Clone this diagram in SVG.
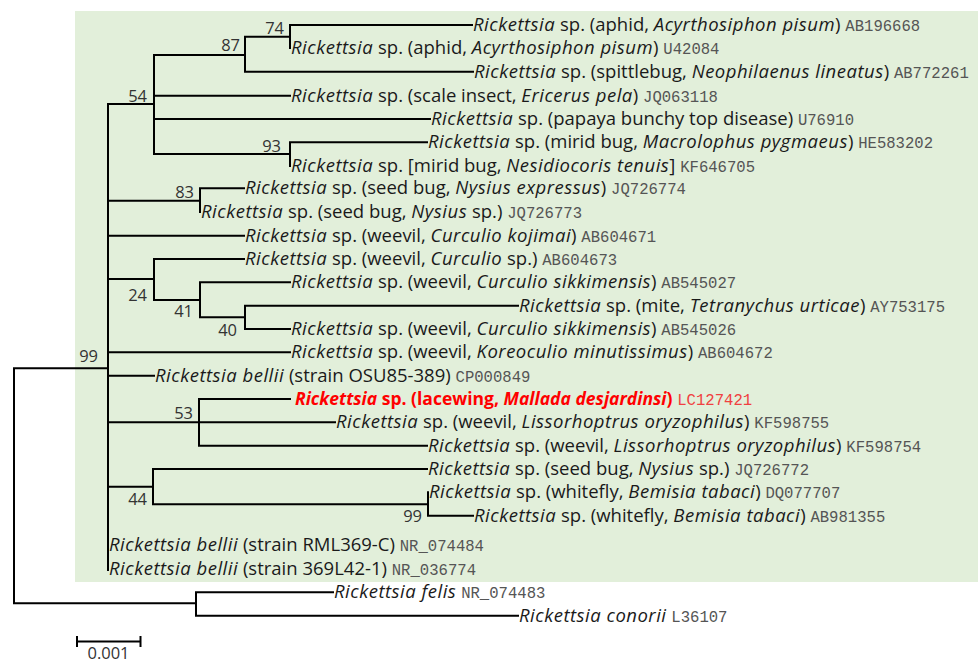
<svg xmlns="http://www.w3.org/2000/svg" width="979" height="663" viewBox="0 0 979 663">
<defs>
<style>
.bg{fill:#E2EFDA}
.br{stroke:#000;stroke-width:2;fill:none;stroke-linecap:square}
.t{font-family:"Open Sans","Noto Sans","Liberation Sans",sans-serif;font-size:18.5px;fill:#1a1a1a}
.i{font-style:italic;letter-spacing:0.5px}
.acc{font-family:"Liberation Mono","DejaVu Sans Mono",monospace;font-size:15.6px;fill:#555;letter-spacing:0}
.bs{font-family:"Open Sans","Noto Sans","Liberation Sans",sans-serif;font-size:16.5px;fill:#333;text-anchor:end}
.red{fill:#FF0000;font-weight:bold;font-size:17.5px}
.red .i{letter-spacing:0}
.racc{fill:#F04040}
</style>
</defs>
<rect class="bg" x="75" y="11" width="903" height="571"/>
<g id="branches" class="br">
<path d="M14,368.3V603.3M14,368.3H108M14,603.3H196"/>
<path d="M108,104V570M108,104H154M108,200.7H200M108,235.7H244M108,279H154M108,352.3H290M108,375.7H154M108,422.3H199M108,486.7H153"/>
<path d="M154,55V154M154,55H245M154,95.7H290M154,119H430M154,154H290"/>
<path d="M245,36.7V71.7M245,36.7H290M245,71.7H473"/>
<path d="M290,25V48M290,25H472"/>
<path d="M290,142.3V166M290,142.3H427"/>
<path d="M200,188.3V212M200,188.3H244"/>
<path d="M154,259V300M154,259H244M154,300H200"/>
<path d="M200,282.3V317.3M200,282.3H290M200,317.3H245"/>
<path d="M245,305.7V329M245,305.7H518M245,329H290"/>
<path d="M199,399V445.7M199,399H290M199,422.3H335M199,445.7H427"/>
<path d="M153,469V504.3M153,469H427M153,504.3H428"/>
<path d="M428,492.3V515.7M428,515.7H473"/>
<path d="M196,592.3V615.7M196,592.3H333M196,615.7H518"/>
</g>
<g id="support">
<text class="bs" x="284" y="34">74</text>
<text class="bs" x="240" y="51">87</text>
<text class="bs" x="147" y="102">54</text>
<text class="bs" x="281" y="151.5">93</text>
<text class="bs" x="194" y="198">83</text>
<text class="bs" x="147" y="300.5">24</text>
<text class="bs" x="193" y="317">41</text>
<text class="bs" x="237" y="335.5">40</text>
<text class="bs" x="98" y="362">99</text>
<text class="bs" x="193" y="419">53</text>
<text class="bs" x="147" y="505">44</text>
<text class="bs" x="422" y="522">99</text>
</g>
<g id="leaf-AB196668"><text class="t" x="473" y="31"><tspan class="i">Rickettsia</tspan> sp. (aphid, <tspan class="i">Acyrthosiphon pisum</tspan>) <tspan class="acc">AB196668</tspan></text></g>
<g id="leaf-U42084"><text class="t" x="291" y="54.4"><tspan class="i">Rickettsia</tspan> sp. (aphid, <tspan class="i">Acyrthosiphon pisum</tspan>) <tspan class="acc">U42084</tspan></text></g>
<g id="leaf-AB772261"><text class="t" x="474" y="77.7"><tspan class="i">Rickettsia</tspan> sp. (spittlebug, <tspan class="i">Neophilaenus lineatus</tspan>) <tspan class="acc">AB772261</tspan></text></g>
<g id="leaf-JQ063118"><text class="t" x="291" y="101.7"><tspan class="i">Rickettsia</tspan> sp. (scale insect, <tspan class="i">Ericerus pela</tspan>) <tspan class="acc">JQ063118</tspan></text></g>
<g id="leaf-U76910"><text class="t" x="431" y="125"><tspan class="i">Rickettsia</tspan> sp. (papaya bunchy top disease) <tspan class="acc">U76910</tspan></text></g>
<g id="leaf-HE583202"><text class="t" x="428" y="148.3"><tspan class="i">Rickettsia</tspan> sp. (mirid bug, <tspan class="i">Macrolophus pygmaeus</tspan>) <tspan class="acc">HE583202</tspan></text></g>
<g id="leaf-KF646705"><text class="t" x="291" y="171.5"><tspan class="i">Rickettsia</tspan> sp. [mirid bug, <tspan class="i">Nesidiocoris tenuis</tspan>] <tspan class="acc">KF646705</tspan></text></g>
<g id="leaf-JQ726774"><text class="t" x="245" y="194.3"><tspan class="i">Rickettsia</tspan> sp. (seed bug, <tspan class="i">Nysius expressus</tspan>) <tspan class="acc">JQ726774</tspan></text></g>
<g id="leaf-JQ726773"><text class="t" x="201" y="217.7"><tspan class="i">Rickettsia</tspan> sp. (seed bug, <tspan class="i">Nysius</tspan> sp.) <tspan class="acc">JQ726773</tspan></text></g>
<g id="leaf-AB604671"><text class="t" x="245" y="241.7"><tspan class="i">Rickettsia</tspan> sp. (weevil, <tspan class="i">Curculio kojimai</tspan>) <tspan class="acc">AB604671</tspan></text></g>
<g id="leaf-AB604673"><text class="t" x="245" y="265"><tspan class="i">Rickettsia</tspan> sp. (weevil, <tspan class="i">Curculio</tspan> sp.) <tspan class="acc">AB604673</tspan></text></g>
<g id="leaf-AB545027"><text class="t" x="291" y="288.3"><tspan class="i">Rickettsia</tspan> sp. (weevil, <tspan class="i">Curculio sikkimensis</tspan>) <tspan class="acc">AB545027</tspan></text></g>
<g id="leaf-AY753175"><text class="t" x="519" y="311.7"><tspan class="i">Rickettsia</tspan> sp. (mite, <tspan class="i">Tetranychus urticae</tspan>) <tspan class="acc">AY753175</tspan></text></g>
<g id="leaf-AB545026"><text class="t" x="291" y="335"><tspan class="i">Rickettsia</tspan> sp. (weevil, <tspan class="i">Curculio sikkimensis</tspan>) <tspan class="acc">AB545026</tspan></text></g>
<g id="leaf-AB604672"><text class="t" x="291" y="358.3"><tspan class="i">Rickettsia</tspan> sp. (weevil, <tspan class="i">Koreoculio minutissimus</tspan>) <tspan class="acc">AB604672</tspan></text></g>
<g id="leaf-CP000849"><text class="t" x="155" y="381.7"><tspan class="i">Rickettsia bellii</tspan> (strain OSU85-389) <tspan class="acc">CP000849</tspan></text></g>
<g id="leaf-LC127421"><text class="t" x="295" y="405"><tspan class="red"><tspan class="i">Rickettsia</tspan> sp. (lacewing, <tspan class="i">Mallada desjardinsi</tspan>)</tspan> <tspan class="acc racc">LC127421</tspan></text></g>
<g id="leaf-KF598755"><text class="t" x="336" y="428.3"><tspan class="i">Rickettsia</tspan> sp. (weevil, <tspan class="i">Lissorhoptrus oryzophilus</tspan>) <tspan class="acc">KF598755</tspan></text></g>
<g id="leaf-KF598754"><text class="t" x="428" y="451.7"><tspan class="i">Rickettsia</tspan> sp. (weevil, <tspan class="i">Lissorhoptrus oryzophilus</tspan>) <tspan class="acc">KF598754</tspan></text></g>
<g id="leaf-JQ726772"><text class="t" x="428" y="475"><tspan class="i">Rickettsia</tspan> sp. (seed bug, <tspan class="i">Nysius</tspan> sp.) <tspan class="acc">JQ726772</tspan></text></g>
<g id="leaf-DQ077707"><text class="t" x="429" y="498.3"><tspan class="i">Rickettsia</tspan> sp. (whitefly, <tspan class="i">Bemisia tabaci</tspan>) <tspan class="acc">DQ077707</tspan></text></g>
<g id="leaf-AB981355"><text class="t" x="474" y="521.7"><tspan class="i">Rickettsia</tspan> sp. (whitefly, <tspan class="i">Bemisia tabaci</tspan>) <tspan class="acc">AB981355</tspan></text></g>
<g id="leaf-NR_074484"><text class="t" x="109" y="551"><tspan class="i">Rickettsia bellii</tspan> (strain RML369-C) <tspan class="acc">NR_074484</tspan></text></g>
<g id="leaf-NR_036774"><text class="t" x="109" y="575"><tspan class="i">Rickettsia bellii</tspan> (strain 369L42-1) <tspan class="acc">NR_036774</tspan></text></g>
<g id="leaf-NR_074483"><text class="t" x="334" y="598.3"><tspan class="i">Rickettsia felis</tspan> <tspan class="acc"> NR_074483</tspan></text></g>
<g id="leaf-L36107"><text class="t" x="519" y="621.7"><tspan class="i">Rickettsia conorii</tspan> <tspan class="acc"> L36107</tspan></text></g>
<g id="scale">
<path class="br" d="M77,641.5H140.5M77,637V646M140.5,637V646"/>
<text class="bs" x="108.5" y="659" style="text-anchor:middle">0.001</text>
</g>
</svg>
